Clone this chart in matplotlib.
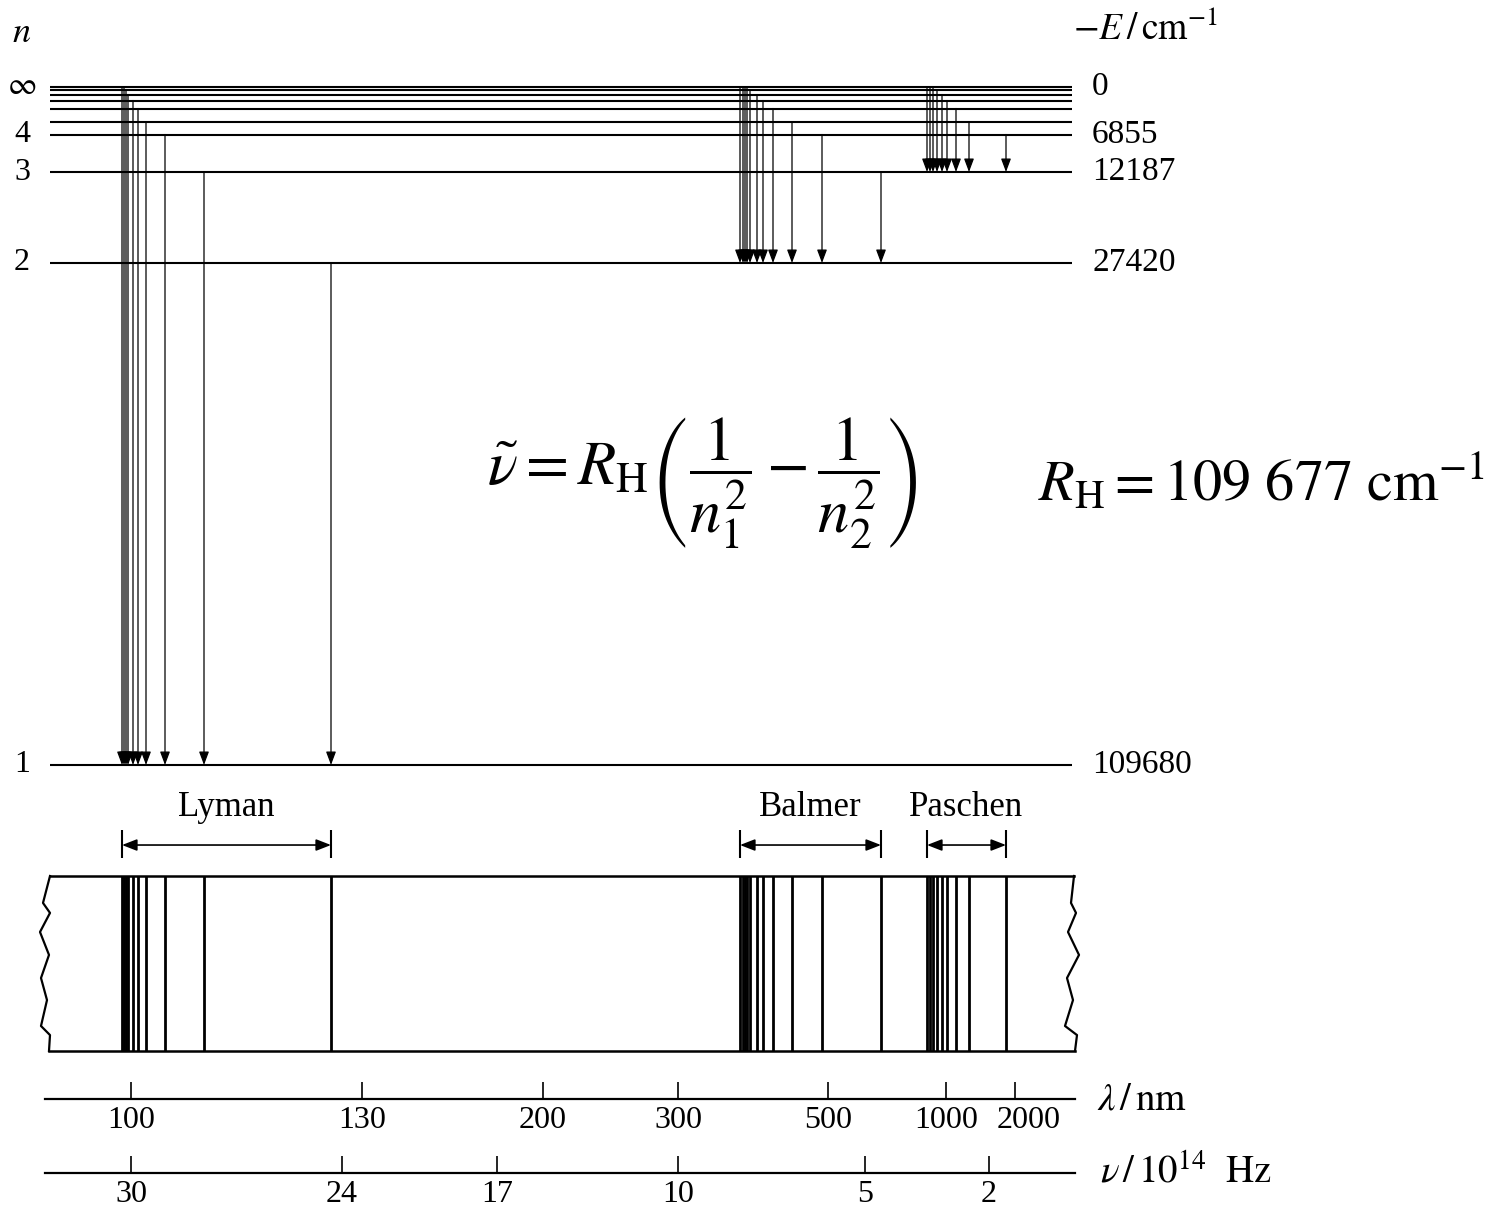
import numpy as np
import matplotlib
matplotlib.use('Agg')
import matplotlib.pyplot as plt
from matplotlib.transforms import ScaledTranslation

plt.rcParams['font.family'] = 'serif'
plt.rcParams['font.serif'] = ['Liberation Serif', 'DejaVu Serif']
plt.rcParams['mathtext.fontset'] = 'stix'

W, H = 1498, 1210

# Niveaux d'énergie de l'atome d'hydrogène (-E en cm-1)
level_n = [np.inf, 9, 8, 7, 6, 5, 4, 3, 2, 1]
level_E = [0, 1354, 1714, 2238, 3047, 4387, 6855, 12187, 27420, 109680]
# hauteur de chaque niveau sur le schéma (échelle non linéaire du dessin)
level_height = [87, 90, 94.5, 100.5, 108.5, 122, 134.5, 172, 263, 765]

n_labels = [r'$\infty$', '4', '3', '2', '1']
n_label_E = [0, 6855, 12187, 27420, 109680]

# Transitions : position sur le spectre et niveau de départ
series_names = ['Lyman', 'Balmer', 'Paschen']
series_lower = [1, 2, 3]
lyman_x = [122, 124, 126, 128, 133, 138, 146, 165, 204, 331]
lyman_from = [np.inf, np.inf, 9, 8, 7, 6, 5, 4, 3, 2]
balmer_x = [740, 743, 745, 747, 750, 757, 763, 773, 792, 822, 881]
balmer_from = [np.inf, np.inf, np.inf, np.inf, 9, 8, 7, 6, 5, 4, 3]
paschen_x = [927, 930, 933, 937, 942, 947, 956, 969, 1006]
paschen_from = [np.inf, np.inf, np.inf, 9, 8, 7, 6, 5, 4]

# Echelles en bas
lam_pos = [131, 362, 543, 678, 828, 946, 1015]
lam_labels = ['100', '130', '200', '300', '500', '1000', '2000']
nu_pos = [131, 342, 497, 678, 865, 989]
nu_labels = ['30', '24', '17', '10', '5', '2']

# bords déchirés de la bande spectrale
zig_y = [1.0, 0.846, 0.789, 0.68, 0.549, 0.417, 0.291, 0.143, 0.091, 0.0]
zig_left_x = [50, 43, 50, 40, 49, 41, 47, 41, 50, 49]
zig_right_x = [1074, 1071, 1076, 1068, 1079, 1067, 1073, 1065, 1077, 1075]

E_of = dict(zip(level_n, level_E))


def box(x0, y0, x1, y1):
    """Position d'un axe à partir de coordonnées pixel (origine en haut à gauche)"""
    return [x0 / W, 1 - y1 / H, (x1 - x0) / W, (y1 - y0) / H]


fig = plt.figure(figsize=(W / 100, H / 100), dpi=100)

# Diagramme des niveaux
ax = fig.add_axes(box(0, 87, W, 765))
ax.set_yscale('function', functions=(lambda e: np.interp(e, level_E, level_height),
                                     lambda p: np.interp(p, level_height, level_E)))
ax.set_xlim(0, W)
ax.set_ylim(level_E[-1], 0)
ax.axis('off')

ax.hlines(level_E, 50, 1072, color='k', lw=1.5, clip_on=False)

all_x = lyman_x + balmer_x + paschen_x
for xs, ns, n_low in zip([lyman_x, balmer_x, paschen_x],
                         [lyman_from, balmer_from, paschen_from], series_lower):
    for x, n in zip(xs, ns):
        ax.annotate('', xy=(x, E_of[n_low]), xytext=(x, E_of[n]),
                    arrowprops=dict(arrowstyle='-|>,head_length=0.8,head_width=0.3',
                                    color='k', lw=0.9, shrinkA=0, shrinkB=0),
                    annotation_clip=False)

for lab, e in zip(n_labels, n_label_E):
    ax.text(22, e, lab, ha='center', va='center', fontsize=23, clip_on=False)
    ax.text(1092, e, f'{e}', ha='left', va='center', fontsize=24, clip_on=False)

fig.text(22 / W, 1 - 33 / H, r'$n$', fontsize=26, ha='center', va='center')
fig.text(1073 / W, 1 - 30 / H, r'$-E\,/\,\mathrm{cm}^{-1}$', fontsize=27,
         ha='left', va='center')

# Formule de Rydberg
fig.text(702 / W, 1 - 483 / H,
         r'$\tilde{\nu}=R_{\mathrm{H}}\left(\dfrac{1}{n_1^2}-\dfrac{1}{n_2^2}\right)$',
         fontsize=45, ha='center', va='center')
fig.text(1038 / W, 1 - 483 / H, r'$R_{\mathrm{H}}=109\ 677\ \mathrm{cm}^{-1}$',
         fontsize=42, ha='left', va='center')

# Bande spectrale
ax_s = fig.add_axes(box(0, 876, W, 1051))
ax_s.set_xlim(0, W)
ax_s.set_ylim(0, 1)
ax_s.axis('off')
ax_s.vlines(all_x, 0, 1, color='k', lw=2.0)
ax_s.plot(zig_left_x, zig_y, 'k-', lw=1.6, clip_on=False)
ax_s.plot(zig_right_x, zig_y, 'k-', lw=1.6, clip_on=False)
ax_s.plot([zig_left_x[0], zig_right_x[0]], [1, 1], 'k-', lw=1.8, clip_on=False)
ax_s.plot([zig_left_x[-1], zig_right_x[-1]], [0, 0], 'k-', lw=1.8, clip_on=False)

for name, xs in zip(series_names, [lyman_x, balmer_x, paschen_x]):
    x0, x1 = min(xs), max(xs)
    ax_s.vlines([x0, x1], 1.103, 1.263, color='k', lw=1.5, clip_on=False)
    ax_s.annotate('', xy=(x1, 1.177), xytext=(x0, 1.177),
                  arrowprops=dict(arrowstyle='<|-|>,head_length=0.9,head_width=0.35',
                                  color='k', lw=1.2, shrinkA=0, shrinkB=0),
                  annotation_clip=False)
    ax_s.text((x0 + x1) / 2, 1.389, name, ha='center', va='center', fontsize=25)

# Echelles en longueur d'onde et en fréquence
for y_axis, pos, labels in [(1099, lam_pos, lam_labels), (1173, nu_pos, nu_labels)]:
    a = fig.add_axes(box(45, y_axis - 40, 1075, y_axis))
    for s in ['top', 'left', 'right']:
        a.spines[s].set_visible(False)
    a.spines['bottom'].set_linewidth(1.6)
    a.patch.set_alpha(0)
    a.set_xlim(45, 1075)
    a.set_yticks([])
    a.set_xticks(pos, labels)
    a.tick_params(axis='x', direction='in', length=12, width=1.2, labelsize=23, pad=5)
    if labels is lam_labels:
        lab = a.get_xticklabels()[-1]
        lab.set_transform(lab.get_transform() + ScaledTranslation(0.14, 0, fig.dpi_scale_trans))

fig.text(1097 / W, 1 - 1100 / H, r'$\lambda\,/\,\mathrm{nm}$', fontsize=28, va='center')
fig.text(1100 / W, 1 - 1173 / H, r'$\nu\,/\,10^{14}\ \ \mathrm{Hz}$', fontsize=28,
         va='center')

fig.savefig('out.png', dpi=100)
